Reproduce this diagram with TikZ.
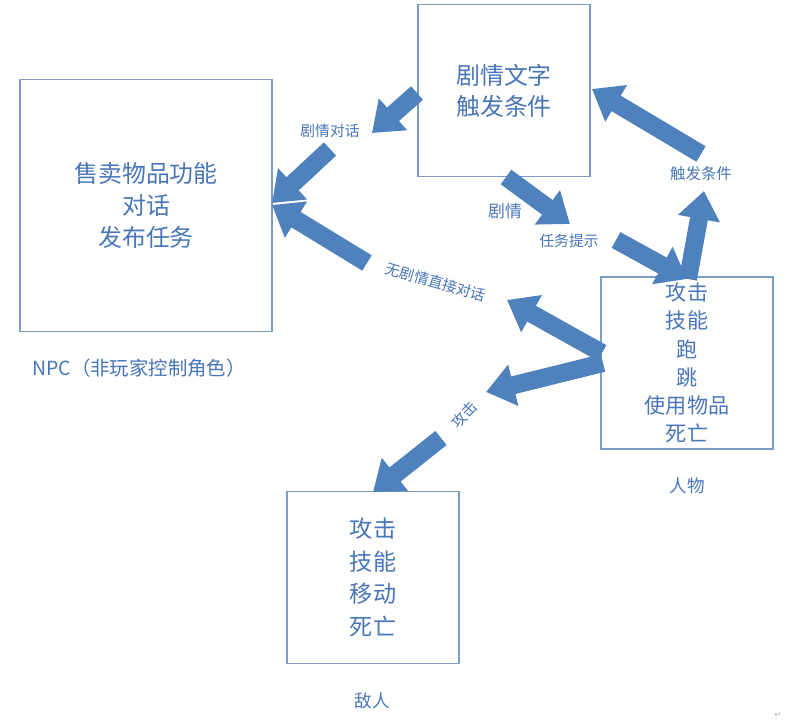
\documentclass[tikz,border=0pt]{standalone}
\usepackage{fontspec}
\newfontfamily\cjk{Noto Sans CJK SC}
\newfontfamily\dejavu{DejaVu Sans}
\usepackage{tikz}
\usetikzlibrary{arrows.meta}
\definecolor{boxline}{HTML}{7A9CC8}
\definecolor{txtblue}{HTML}{4876B8}
\definecolor{arrowblue}{HTML}{4F81BD}
\tikzset{
    box/.style={draw=boxline,line width=0.8pt,minimum width=4.3cm,minimum height=4.3cm,inner sep=0pt,align=center,text=txtblue},
    bigbox/.style={box,minimum width=6.3cm,minimum height=6.3cm},
    lbl/.style={text=txtblue,inner sep=0pt,font=\cjk\fontsize{10.5}{12}\selectfont},
    capt/.style={lbl,font=\cjk\fontsize{12.5}{14}\selectfont},
    blk/.style={
        every edge/.style={draw=arrowblue,line width=12.8pt,-{Triangle[length=20pt,width=29pt]}},
    }
}

\begin{document}
\begin{tikzpicture}[x=0.025cm,y=-0.025cm,blk]
\path[fill=white,use as bounding box] (0,0) rectangle (789,721);
% boxes
\node[bigbox,font=\cjk\fontsize{17}{23}\selectfont] (npc) at (146,205.5) {售卖物品功能\\对话\\发布任务};
\node[box,font=\cjk\fontsize{17}{22}\selectfont] (story) at (504,90.5) {剧情文字\\触发条件};
\node[box,font=\cjk\fontsize{15}{20}\selectfont] (hero) at (687,363) {攻击\\技能\\跑\\跳\\使用物品\\死亡};
\node[box,font=\cjk\fontsize{16.5}{23}\selectfont] (enemy) at (373,577.5) {攻击\\技能\\移动\\死亡};
% captions
\node[capt,font=\cjk\fontsize{13.8}{16}\selectfont] (npccap) at (139,368) {NPC（非玩家控制角色）};
\node[capt] (herocap) at (687,486) {人物};
\node[capt] (enemycap) at (372,701) {敌人};
% labels
\node[lbl] (talk) at (330,131) {剧情对话};
\node[lbl,font=\cjk\fontsize{12}{14}\selectfont] (plot) at (505,211) {剧情};
\node[lbl] (quest) at (569,241) {任务提示};
\node[lbl,font=\cjk\fontsize{11}{12}\selectfont] (trig) at (701,174) {触发条件};
\node[lbl,rotate=-16] (direct) at (436,282) {无剧情直接对话};
\node[lbl,rotate=48] (atk) at (464,415) {攻击};
\node[text=gray!60,inner sep=0pt,font=\dejavu\fontsize{6}{6}\selectfont] (pmark) at (778,715) {↵};
% arrow ends
\coordinate (a1s) at (417,93);  \coordinate (a1e) at (372,133);
\coordinate (a2s) at (330,149); \coordinate (a2e) at (272,203);
\coordinate (bs) at (367,263);  \coordinate (be) at (272,205);
\coordinate (cs) at (602,353);  \coordinate (ce) at (507,300);
\coordinate (ds) at (603,363);  \coordinate (de) at (486,392);
\coordinate (es) at (441,438);  \coordinate (ee) at (373,492);
\coordinate (fs) at (506,177);  \coordinate (fe) at (570,224);
\coordinate (gs) at (616,240);  \coordinate (ge) at (687,279);
\coordinate (hs) at (688,279);  \coordinate (he) at (704,191);
\coordinate (is) at (701,154);  \coordinate (ie) at (592,89);
\path
    (a1s) edge (a1e)
    (a2s) edge (a2e)
    (bs) edge (be)
    (cs) edge (ce)
    (ds) edge (de)
    (es) edge (ee)
    (fs) edge (fe)
    (gs) edge (ge)
    (hs) edge (he)
    (is) edge (ie)
;
\end{tikzpicture}
\end{document}
